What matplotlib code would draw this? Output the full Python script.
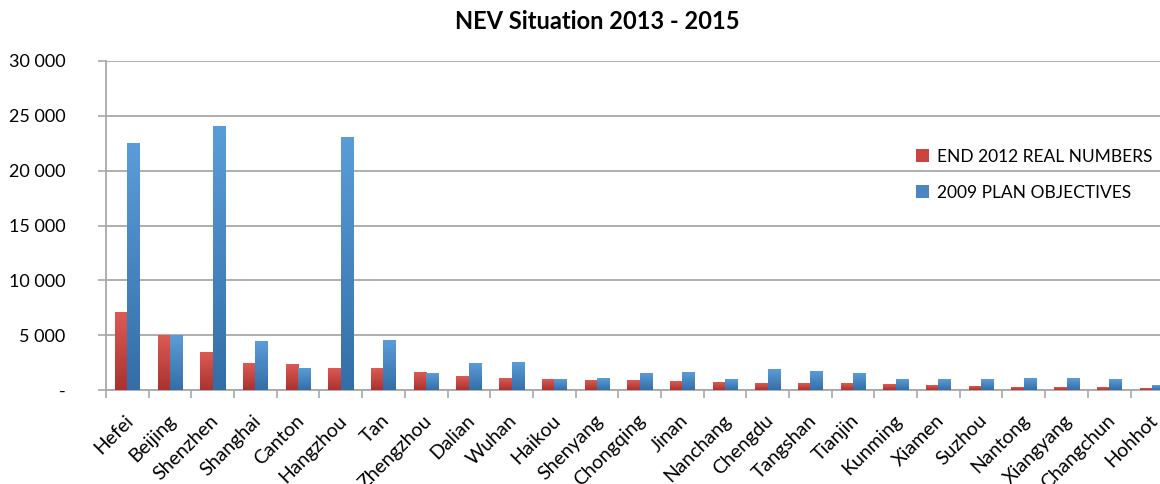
import matplotlib
matplotlib.use('Agg')
import matplotlib.pyplot as plt
import matplotlib.transforms as mtransforms
import numpy as np
from matplotlib.colors import LinearSegmentedColormap
from matplotlib.patches import Patch
from matplotlib.ticker import FuncFormatter, MultipleLocator

plt.rcParams['font.family'] = ['Lato', 'DejaVu Sans']

cities = ['Hefei', 'Beijing', 'Shenzhen', 'Shanghai', 'Canton', 'Hangzhou', 'Tan',
          'Zhengzhou', 'Dalian', 'Wuhan', 'Haikou', 'Shenyang', 'Chongqing', 'Jinan',
          'Nanchang', 'Chengdu', 'Tangshan', 'Tianjin', 'Kunming', 'Xiamen', 'Suzhou',
          'Nantong', 'Xiangyang', 'Changchun', 'Hohhot']
real_2012 = [7100, 5000, 3400, 2400, 2300, 2000, 2000, 1600, 1250, 1050, 1000, 900,
             900, 800, 650, 600, 580, 550, 480, 400, 350, 250, 220, 200, 180]
plan_2009 = [22500, 5000, 24000, 4450, 2000, 23000, 4550, 1500, 2400, 2500, 1000,
             1050, 1500, 1600, 1000, 1900, 1650, 1500, 1000, 1000, 1000, 1050, 1050,
             1000, 450]
series_names = ['END 2012 REAL NUMBERS', '2009 PLAN OBJECTIVES']

red_cmap = LinearSegmentedColormap.from_list('red', ['#a9332f', '#dc5a53'])
blue_cmap = LinearSegmentedColormap.from_list('blue', ['#356ea6', '#5b9cd8'])

fig = plt.figure(figsize=(11.6, 4.84), dpi=100)
ax = fig.add_axes([0.0914, 0.194, 0.92, 0.68])

x = np.arange(len(cities))
width = 0.29
grad = np.linspace(0, 1, 64).reshape(-1, 1)

def gradient_bars(xs, vals, cmap):
    # plain bars for geometry, filled with a vertical gradient image
    bars = ax.bar(xs, vals, width, color='none', linewidth=0, zorder=3)
    for rect in bars:
        x0 = rect.get_x()
        h = rect.get_height()
        ax.imshow(grad, extent=[x0, x0 + rect.get_width(), 0, h], origin='lower',
                  aspect='auto', cmap=cmap, zorder=3, interpolation='bicubic')
    return bars

gradient_bars(x - width / 2, real_2012, red_cmap)
gradient_bars(x + width / 2, plan_2009, blue_cmap)

ax.set_xlim(-0.5, len(cities) - 0.5)
ax.set_ylim(0, 30000)
ax.set_aspect('auto')

ax.yaxis.set_major_locator(MultipleLocator(5000))
ax.yaxis.set_major_formatter(FuncFormatter(
    lambda v, _: '-' if v == 0 else f'{int(v):,}'.replace(',', ' ')))
ax.grid(axis='y', color='#a8a8a8', linewidth=1.3, zorder=0)
ax.set_axisbelow(True)

ax.set_xticks(x)
ax.set_xticks(np.arange(len(cities) + 1) - 0.5, minor=True)
ax.tick_params(axis='x', which='major', length=0, pad=20, labelsize=14)
ax.tick_params(axis='x', which='minor', length=6, width=1.2, color='#a8a8a8',
               direction='out')
ax.tick_params(axis='y', length=6, width=1.2, color='#a8a8a8', pad=23,
               labelsize=13)
ax.set_xticklabels(cities, rotation=45, ha='right', va='center',
                   rotation_mode='anchor')

# nudge the slanted city names a little to the right
shift = mtransforms.ScaledTranslation(3 / 100, 0, fig.dpi_scale_trans)
for lbl in ax.get_xticklabels():
    lbl.set_transform(lbl.get_transform() + shift)

for side in ['top', 'right']:
    ax.spines[side].set_visible(False)
for side in ['left', 'bottom']:
    ax.spines[side].set_color('#a8a8a8')
    ax.spines[side].set_linewidth(1.3)

fig.text(0.515, 0.955, 'NEV Situation 2013 - 2015', ha='center', va='center',
         fontsize=17, fontweight='bold')

handles = [Patch(facecolor='#c8463f', edgecolor='none'),
           Patch(facecolor='#4a86c4', edgecolor='none')]
fig.legend(handles, series_names, loc='upper left',
           bbox_to_anchor=(0.776, 0.725), frameon=False, fontsize=12.5,
           handlelength=0.75, handleheight=0.75, handletextpad=0.45,
           labelspacing=1.15)

fig.savefig('out.png', dpi=100)
